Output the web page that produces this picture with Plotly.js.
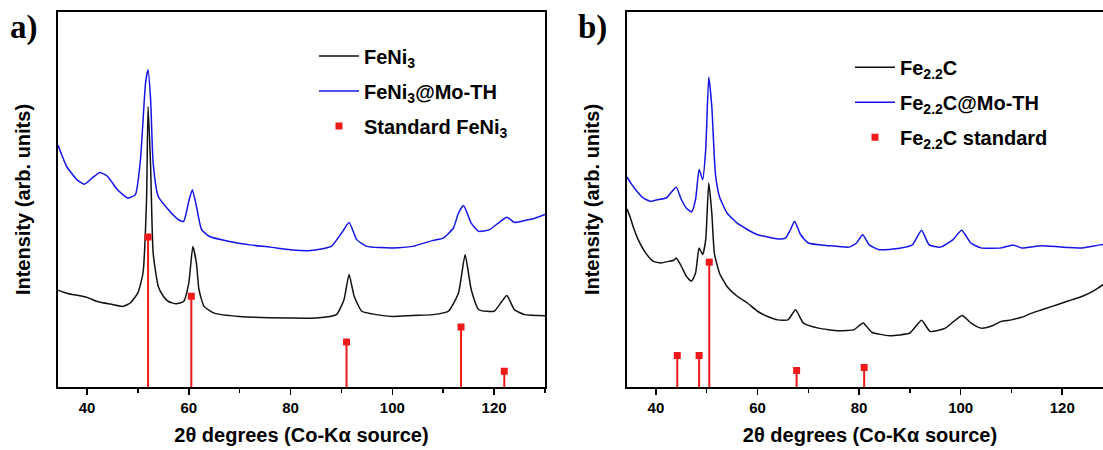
<!DOCTYPE html>
<html>
<head>
<meta charset="utf-8">
<script src="https://cdn.plot.ly/plotly-3.0.1.min.js"></script>
<style>
html,body{margin:0;padding:0;overflow:hidden;background:#fff;}
#chart{width:1115px;height:450px;}
</style>
</head>
<body>
<div id="chart"></div>
<script>
// ---------- Panel a: FeNi3 ----------
const aBlackX = [34.3,36,40,42,45,47,48.5,50,51,51.7,52,52.5,53,54,55,56,57.5,59,60,60.8,61.5,62,63,65,70,80,85,89,90.5,91.5,92.5,94,96,100,104,108,111,113,114.3,115.5,117,120,121.5,122.5,124,126,130];
const aBlackY = [25.8,25.0,23.9,22.8,22.0,21.5,22.4,25.1,30.4,50,74.8,58.8,35.7,26.8,24.2,22.8,22.2,22.8,27.7,37.5,33,26,21.5,19.7,18.8,18.4,18.4,19.3,23.3,30,24.2,20.2,19.5,18.8,19.1,19.3,20.2,25.1,35.3,26,20.6,20.2,22.8,24.4,20.6,19.3,19];
const aBlueX = [34.3,35,36,38,39.5,41,42.5,44,46,48,49.5,50.5,51.5,52,52.5,53,54,56,58,59,60,60.7,61.5,62.5,64,68,72,76,80,84,88,90,91.5,93,95,100,104,108,110,112,113,114,115.5,117,119,121,122.5,124,126,128,130];
const aBlueY = [64.5,62,58.8,55.3,54.1,55.7,57.2,56.2,52.6,50.4,51.3,60.6,81,84.6,76.6,59.7,50.8,47.3,44.6,44.2,49.5,52.6,48.2,42,40.2,38.8,37.9,37.3,36.6,36.4,37.5,41,43.9,39.3,37.5,37.1,37.5,39.1,39.7,42.4,46.4,48.4,43.7,41.5,41.9,43.9,45.3,43.9,44.4,45,46];
const aStdX = [52,60.5,91,113.5,122];
const aStdY = [40,24.2,12,16,4.2];

// ---------- Panel b: Fe2.2C ----------
const bBlackX = [34.3,35,35.5,36.5,38,39.5,41,42.5,43.5,44,45,46,47,47.8,48.5,49.2,49.8,50.4,51,51.5,52.5,54,56,58,60,62,64,66,67.5,69,72,76,79,80.8,82.5,86,90,92.3,94,97,100.3,102,104,106,108,110,112,114,116,118,120,122,124,126,127.5,130];
const bBlackY = [47.5,45,42.8,39.3,35.7,33.5,33.1,33.5,33.8,34.4,32.2,29.5,28.2,30.4,37.1,35.3,39.3,54.4,46.4,35.7,30.4,26.8,24.2,22.4,20.2,18.8,17.9,17.9,20.6,17.1,15.7,15,15.3,17.1,14.6,13.7,14.4,17.8,14.8,15.7,19.1,17.1,15.7,16.2,17.5,17.9,18.6,19.7,20.6,21.5,22.4,23.3,24.2,25.5,26.8,29];
const bBlueX = [34.3,35,36,37.5,39,40.5,42,43.2,44,45,46,47,47.8,48.5,49.2,49.8,50.4,51,51.7,52.5,54,56,58,60,62,64,65.5,66.5,67.3,68.5,70,74,78,79.5,80.7,82,84,88,90.5,92.3,93.8,96,98.5,100.2,102,104,108,110.3,112,116,120,124,127.5,130];
const bBlueY = [56,54.5,52.6,50.4,49.5,50,50.4,52.2,53.3,50,47.7,46.7,50,58,55.3,63.3,82.7,74.8,57,50.8,46.4,43.7,42,40.6,40,39.5,39.7,42,44.2,40.6,38.4,37.7,37.3,38.4,40.6,37.9,36.6,37,37.9,41.8,37.9,37.3,39.3,41.8,38.4,37.1,37.1,37.9,37.1,37.7,37.3,37.1,37.9,38.2];
const bStdX = [44.2,48.5,50.5,67.7,81];
const bStdY = [8.4,8.4,33.3,4.4,5.2];

// ---------- Labels ----------
const namesA = ['FeNi<sub>3</sub>', 'FeNi<sub>3</sub>@Mo-TH', 'Standard FeNi<sub>3</sub>'];
const namesB = ['Fe<sub>2.2</sub>C', 'Fe<sub>2.2</sub>C@Mo-TH', 'Fe<sub>2.2</sub>C standard'];
const xTitle = '2θ degrees (Co-Kα source)';
const yTitle = 'Intensity (arb. units)';
const panelLabels = ['a)', 'b)'];

const BLACK = '#111111', BLUE = '#1414e6', RED = '#ee1a1a';
const W = 1115;

function lineTrace(x, y, name, color, xa, ya, leg, grp) {
  return {x, y, name, type:'scatter', mode:'lines', xaxis:xa, yaxis:ya, legend:leg, legendgroup:grp,
    line:{color, width:1.5, shape:'spline', smoothing:0.5}};
}
function stdTrace(x, y, name, xa, ya, leg, grp) {
  return {x, y, name, type:'scatter', mode:'markers', xaxis:xa, yaxis:ya, legend:leg, legendgroup:grp,
    marker:{symbol:'square', size:7, color:RED},
    error_y:{type:'data', symmetric:false, array:y.map(()=>0), arrayminus:y, color:RED, thickness:2, width:0}};
}

const data = [
  lineTrace(aBlackX, aBlackY, namesA[0], BLACK, 'x', 'y', 'legend', 'a1'),
  lineTrace(aBlueX, aBlueY, namesA[1], BLUE, 'x', 'y', 'legend', 'a2'),
  stdTrace(aStdX, aStdY, namesA[2], 'x', 'y', 'legend', 'a3'),
  lineTrace(bBlackX, bBlackY, namesB[0], BLACK, 'x2', 'y2', 'legend2', 'b1'),
  lineTrace(bBlueX, bBlueY, namesB[1], BLUE, 'x2', 'y2', 'legend2', 'b2'),
  stdTrace(bStdX, bStdY, namesB[2], 'x2', 'y2', 'legend2', 'b3')
];

function xAxis(domain, anchor) {
  return {domain, anchor, range:[34.3,130], showline:true, mirror:true, linewidth:2, linecolor:'#000',
    ticks:'outside', ticklen:6, tickwidth:1.5, tickcolor:'#000', dtick:20, tick0:0,
    minor:{dtick:10, ticks:'outside', ticklen:4, tickwidth:1.5, tickcolor:'#000'},
    showgrid:false, zeroline:false,
    tickfont:{size:15, weight:'bold', color:'#000'},
    title:{text:xTitle, font:{size:20, weight:'bold', color:'#000'}, standoff:13}};
}
function yAxis(domain, anchor) {
  return {domain, anchor, range:[0,100], showline:true, mirror:true, linewidth:2, linecolor:'#000',
    showticklabels:false, ticks:'', showgrid:false, zeroline:false,
    title:{text:yTitle, font:{size:20, weight:'bold', color:'#000'}, standoff:20}};
}
const legendBase = {bgcolor:'rgba(0,0,0,0)', borderwidth:0, tracegroupgap:6, itemwidth:40,
  font:{size:20, weight:'bold', color:'#000'}, xanchor:'left', yanchor:'top'};

const layout = {
  width:W, height:450,
  margin:{l:0, r:0, t:12, b:63},
  paper_bgcolor:'#fff', plot_bgcolor:'#fff',
  font:{family:'Liberation Sans, Arial, sans-serif', color:'#000'},
  xaxis: xAxis([58/W, 545/W], 'y'),
  yaxis: yAxis([0,1], 'x'),
  xaxis2: xAxis([627/W, 1113/W], 'y2'),
  yaxis2: yAxis([0,1], 'x2'),
  legend: Object.assign({}, legendBase, {x:314/W, y:0.935}),
  legend2: Object.assign({}, legendBase, {x:850/W, y:0.905}),
  annotations:[
    {text:panelLabels[0], xref:'paper', yref:'paper', x:8/W, y:0.96, xanchor:'left', yanchor:'middle', showarrow:false,
      font:{family:'Liberation Serif, Times New Roman, serif', size:33, weight:'bold', color:'#000'}},
    {text:panelLabels[1], xref:'paper', yref:'paper', x:576/W, y:0.96, xanchor:'left', yanchor:'middle', showarrow:false,
      font:{family:'Liberation Serif, Times New Roman, serif', size:33, weight:'bold', color:'#000'}}
  ]
};

Plotly.newPlot('chart', data, layout, {displayModeBar:false, staticPlot:true});
</script>
</body>
</html>
